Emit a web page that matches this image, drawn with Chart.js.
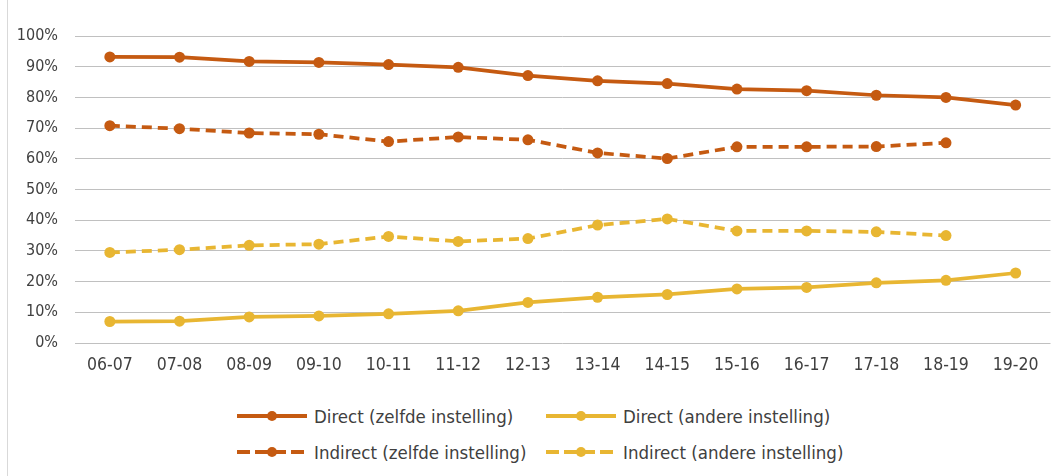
<!DOCTYPE html>
<html>
<head>
<meta charset="utf-8">
<script src="https://cdn.jsdelivr.net/npm/chart.js@4"></script>
<style>
  html, body { margin: 0; padding: 0; background: #fff; overflow: hidden; }
  body { width: 1051px; height: 476px; position: relative; }
  .frame { position: absolute; left: 7px; top: 0; width: 1px; height: 476px; background: #D9D9D9; }
  .wrap { position: absolute; left: 0; top: 0; width: 1056px; height: 388px; }
  .legend { position: absolute; left: 0; top: 0; font-family: "DejaVu Sans Condensed", "DejaVu Sans", sans-serif; font-size: 18.5px; color: #404040; }
  .lg-item { position: absolute; display: flex; align-items: center; white-space: nowrap; height: 24px; }
  .lg-item svg { margin-right: 7px; }
</style>
</head>
<body>
<div class="frame"></div>
<div class="wrap"><canvas id="chart"></canvas></div>
<div class="legend" id="legend"></div>
<script>
/* ── Data ───────────────────────────────────────────────────── */
const years = ['06-07','07-08','08-09','09-10','10-11','11-12','12-13','13-14','14-15','15-16','16-17','17-18','18-19','19-20'];
const directSame    = [93.2, 93.1, 91.7, 91.4, 90.7, 89.8, 87.1, 85.4, 84.5, 82.7, 82.2, 80.7, 80.0, 77.5];
const directOther   = [7.0, 7.1, 8.5, 8.8, 9.5, 10.5, 13.2, 14.9, 15.8, 17.6, 18.1, 19.6, 20.4, 22.8];
const indirectSame  = [70.8, 69.8, 68.4, 68.0, 65.6, 67.1, 66.2, 61.9, 60.1, 63.9, 63.9, 64.0, 65.2, null];
const indirectOther = [29.5, 30.4, 31.8, 32.2, 34.7, 33.1, 34.0, 38.4, 40.4, 36.5, 36.5, 36.2, 35.0, null];
const seriesNames = ['Direct (zelfde instelling)', 'Direct (andere instelling)', 'Indirect (zelfde instelling)', 'Indirect (andere instelling)'];

const ORANGE = '#C55A11';
const GOLD   = '#E8B632';
const FONT   = '"DejaVu Sans Condensed", "DejaVu Sans", sans-serif';

function series(label, values, color, dashed) {
  return {
    label, data: values,
    borderColor: color, backgroundColor: color,
    borderWidth: 3.75, borderDash: dashed ? [10, 6] : [],
    pointRadius: 5.5, pointHoverRadius: 5.5, pointBorderWidth: 0,
    spanGaps: false, tension: 0
  };
}

const datasets = [
  series(seriesNames[0], directSame, ORANGE, false),
  series(seriesNames[1], directOther, GOLD, false),
  series(seriesNames[2], indirectSame, ORANGE, true),
  series(seriesNames[3], indirectOther, GOLD, true)
];

new Chart(document.getElementById('chart'), {
  type: 'line',
  data: { labels: years, datasets },
  options: {
    responsive: true,
    maintainAspectRatio: false,
    animation: false,
    layout: { padding: { top: 36, left: 0, right: 0, bottom: 0 } },
    plugins: { legend: { display: false }, tooltip: { enabled: false } },
    scales: {
      x: {
        offset: true,
        grid: { display: false, drawTicks: false },
        border: { display: false },
        ticks: { color: '#404040', font: { family: FONT, size: 17.5 }, padding: 12, maxRotation: 0 }
      },
      y: {
        min: 0, max: 100,
        afterFit: s => { s.width = 75; },
        grid: { color: '#C0C0C0', lineWidth: 1, drawTicks: false },
        border: { display: false },
        ticks: { stepSize: 10, color: '#404040', font: { family: FONT, size: 16 }, padding: 17, callback: v => v + '%' }
      }
    }
  }
});

/* ── HTML legend (two columns) ──────────────────────────────── */
const legendPos = [[237, 404], [546, 404], [237, 440], [546, 440]];
document.getElementById('legend').innerHTML = datasets.map((d, i) => {
  const dash = d.borderDash.length ? 'stroke-dasharray="13 5"' : '';
  return `
    <div class="lg-item" style="left:${legendPos[i][0]}px;top:${legendPos[i][1]}px">
      <svg width="70" height="12"><line x1="0" y1="6" x2="70" y2="6" stroke="${d.borderColor}" stroke-width="4" ${dash}/>
        <circle cx="35" cy="6" r="5" fill="${d.borderColor}"/></svg>
      <span>${d.label}</span>
    </div>`;
}).join('');
</script>
</body>
</html>
